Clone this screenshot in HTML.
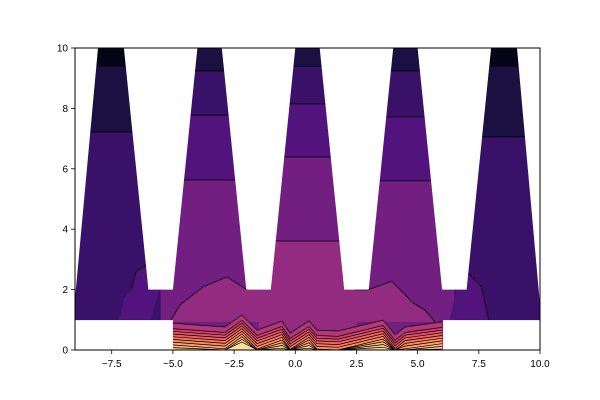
<!DOCTYPE html>
<html><head><meta charset="utf-8"><style>
html,body{margin:0;padding:0;background:#fff;}
svg{display:block;font-family:"Liberation Sans",sans-serif;}
</style></head><body>
<svg id="chart" width="600" height="400" viewBox="0 0 600 400" xmlns="http://www.w3.org/2000/svg">
<g id="plot"></g>
<g id="axes"></g>
</svg>
<script>
// ---- data ----
var xTicks = [-7.5, -5.0, -2.5, 0.0, 2.5, 5.0, 7.5, 10.0];
var yTicks = [0, 2, 4, 6, 8, 10];
var toothX = [[-9, -5.5], [-5.5, -1.5], [-1.5, 2.5], [2.5, 6.5], [6.5, 10]];
var toothBounds = [
  [9.40, 7.22],
  [9.24, 7.78, 5.63],
  [9.40, 8.15, 6.39, 3.61],
  [9.24, 7.72, 5.60],
  [9.40, 7.06]
];
var toothStart = [0, 1, 1, 1, 0];
var bandColors = ["#050417", "#1a1042", "#3a1168", "#52137c", "#721f81", "#932b80"];
var midLeft = [[-5.12,0.93],[-4.7,1.5],[-3.77,2.09],[-2.79,2.42],[-1.97,1.99],[-1.44,1.99],[-1.44,0.93]];
var midRight = [[2.44,1.99],[2.97,1.99],[3.95,2.28],[4.81,1.56],[5.30,1.32],[5.71,0.93],[6.04,0.93],[2.44,0.93]];
var midLeftEdge = 5;  // number of leading points forming the contour line
var midRightEdge = 6;
var purpleLeft = [[-6.7,2.0],[-6.5,2.6],[-6.1,2.8],[-5.55,2.0],[-5.9,1.0],[-7.2,1.0],[-7.0,1.7]];
var purpleRight = [[6.6,2.0],[7.0,2.6],[7.6,2.1],[7.9,1.0],[6.3,1.0]];
var profileX = [-5.04,-2.87,-2.18,-1.56,-0.54,-0.21,0.56,0.89,1.75,3.59,4.08,4.49,6.0];
var profileY = [0.89,0.76,1.16,0.66,0.96,0.56,0.96,0.66,0.63,0.99,0.50,0.76,0.93];
var stripeColors = ["#b5367a","#cf4070","#e24d66","#f06060","#f8765c","#fc8961","#fe9f6d","#feb47b","#fec98d","#fddea0"];
var stripeStep = 0.09;
var masks = [
  [[-9,10],[-8.06,10],[-9,1.7]],
  [[-7,10],[-4,10],[-5,2],[-6,2]],
  [[-3,10],[0,10],[-1,2],[-2,2]],
  [[1,10],[4,10],[3,2],[2,2]],
  [[5,10],[8,10],[7,2],[6,2]],
  [[9.06,10],[10,10],[10,1.5]],
  [[-9,0],[-5,0],[-5,0.99],[-9,0.99]],
  [[6.04,0],[10,0],[10,0.99],[6.04,0.99]]
];

// ---- axes ----
var L=75,R=540,T=48,B=350,xmin=-9,xmax=10,ymin=0,ymax=10;
function sx(x){return L+(x-xmin)/(xmax-xmin)*(R-L);}
function sy(y){return B-(y-ymin)/(ymax-ymin)*(B-T);}
var NS="http://www.w3.org/2000/svg";
var plot=document.getElementById('plot'), axes=document.getElementById('axes');
function mk(tag,attrs,parent){var e=document.createElementNS(NS,tag);for(var k in attrs)e.setAttribute(k,attrs[k]);parent.appendChild(e);return e;}
function pts(a){return a.map(function(p){return sx(p[0]).toFixed(1)+','+sy(p[1]).toFixed(1);}).join(' ');}

toothX.forEach(function(tx,i){
  var b=[10].concat(toothBounds[i]).concat([0]);
  for(var j=0;j<b.length-1;j++){
    var r=mk('rect',{x:sx(tx[0]),y:sy(b[j]),width:sx(tx[1])-sx(tx[0])+0.5,height:sy(b[j+1])-sy(b[j])+0.5,fill:bandColors[toothStart[i]+j]},plot);
    
    
  }
  for(var j=1;j<b.length-1;j++){
    var ln=mk('line',{x1:sx(tx[0]),x2:sx(tx[1]),y1:sy(b[j]),y2:sy(b[j]),stroke:'#000','stroke-width':0.8},plot);
    
    
  }
});
[[purpleLeft,"#52137c",4],[purpleRight,"#52137c",4],[midLeft,"#932b80",midLeftEdge],[midRight,"#932b80",midRightEdge]].forEach(function(p){
  var pg=mk('polygon',{points:pts(p[0]),fill:p[1]},plot);
  
  
  var pl=mk('polyline',{points:pts(p[0].slice(0,p[2])),fill:'none',stroke:'#000','stroke-width':0.8},plot);
  
  
});
stripeColors.forEach(function(c,k){
  var top=profileX.map(function(x,i){return [x,Math.max(0,profileY[i]-(k===0?0:(k+1))*stripeStep)];});
  var poly=top.concat([[6.0,0],[-5.04,0]]);
  var pg=mk('polygon',{points:pts(poly),fill:c},plot);
  
  
  var pl=mk('polyline',{points:pts(top),fill:'none',stroke:'#000','stroke-width':0.7},plot);
  
  
});
masks.forEach(function(m){
  var pg=mk('polygon',{points:pts(m),fill:'#fff'},plot);
  
  
});
var fr=mk('rect',{x:L,y:T,width:R-L,height:B-T,fill:'none',stroke:'#000','stroke-width':1},axes);


xTicks.forEach(function(t){
  var x=sx(t);
  var tk=mk('line',{x1:x,x2:x,y1:B,y2:B+4,stroke:'#000','stroke-width':0.8},axes);
  
  
  var tx=mk('text',{x:x,y:B+17,'text-anchor':'middle','font-size':10},axes);
  tx.textContent=(t<0?'\u2212':'')+Math.abs(t).toFixed(1);
  
  
});
yTicks.forEach(function(t){
  var y=sy(t);
  var tk=mk('line',{x1:L-4,x2:L,y1:y,y2:y,stroke:'#000','stroke-width':0.8},axes);
  
  
  var tx=mk('text',{x:L-7,y:y+3.5,'text-anchor':'end','font-size':10},axes);
  tx.textContent=String(t);
  
  
});
</script>
</body></html>
